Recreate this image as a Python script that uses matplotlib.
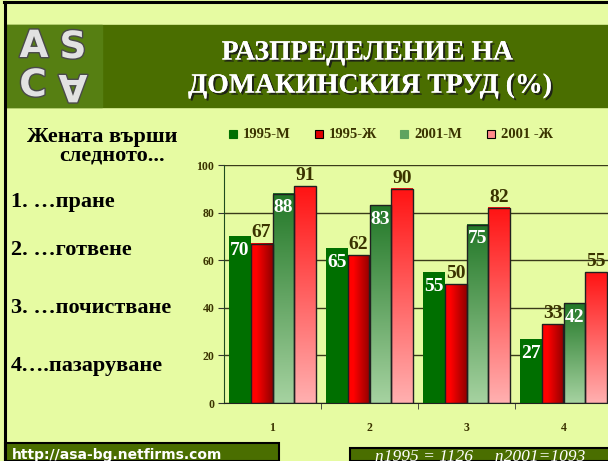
import numpy as np
import matplotlib
matplotlib.use("Agg")
import matplotlib.pyplot as plt
from matplotlib.patches import Rectangle
from matplotlib.lines import Line2D
import matplotlib.patheffects as pe

# data
categories = ["1", "2", "3", "4"]
series_names = ["1995-М", "1995-Ж", "2001-М", "2001 -Ж"]
m1995 = [70, 65, 55, 27]
f1995 = [67, 62, 50, 33]
m2001 = [88, 83, 75, 42]
f2001 = [91, 90, 82, 55]
items = ["1. …пране", "2. …готвене", "3. …почистване", "4….пазаруване"]

BG = "#E6FBA2"
BANNER = "#4A6E00"
DARK = "#3A3300"
SERIF = ["Liberation Serif", "DejaVu Serif"]

W, H = 608, 461
fig = plt.figure(figsize=(W / 100, H / 100), dpi=100, facecolor=BG)


def fx(px):
    return px / W


def fy(py):
    return 1 - py / H


# frame lines (top / left)
fig.add_artist(Line2D([fx(4), 1], [fy(2), fy(2)], color="black", lw=2.2))
fig.add_artist(Line2D([fx(5), fx(5)], [fy(2), 0], color="black", lw=2.2))

# header banner
fig.add_artist(Rectangle((fx(6), fy(107)), 1, fy(25) - fy(107),
                         transform=fig.transFigure, color=BANNER, zorder=1))
fig.add_artist(Rectangle((fx(6), fy(107)), fx(102) - fx(6), fy(25) - fy(107),
                         transform=fig.transFigure, color="#567F12", zorder=1))

# logo letters
logo_fx = [pe.withStroke(linewidth=2, foreground="#4A4A4A")]
logo_kw = dict(fontsize=27, fontweight="bold", color="#E2E2E2", ha="center",
               va="center", family="DejaVu Sans", path_effects=logo_fx)
fig.text(fx(34), fy(47), "A", **logo_kw)
fig.text(fx(73), fy(48), "S", **logo_kw)
fig.text(fx(33), fy(86), "C", **logo_kw)
fig.text(fx(73), fy(85), "A", rotation=180, **logo_kw)

# title
title_fx = [pe.withSimplePatchShadow(offset=(1.5, -1.5), shadow_rgbFace="#1A1A1A", alpha=0.9),
            pe.Normal()]
fig.text(fx(367), fy(53), "РАЗПРЕДЕЛЕНИЕ НА", fontsize=20, fontweight="bold",
         color="white", ha="center", va="center", family=SERIF, path_effects=title_fx)
fig.text(fx(370), fy(86), "ДОМАКИНСКИЯ ТРУД (%)", fontsize=20, fontweight="bold",
         color="white", ha="center", va="center", family=SERIF, path_effects=title_fx)

# left text
fig.text(fx(102), fy(137), "Жената върши", fontsize=16, fontweight="bold",
         color="black", ha="center", va="center", family=SERIF)
fig.text(fx(112), fy(156), "следното...", fontsize=16, fontweight="bold",
         color="black", ha="center", va="center", family=SERIF)
for txt, py in zip(items, [202, 250, 308, 366]):
    fig.text(fx(11), fy(py), txt, fontsize=16, fontweight="bold",
             color="black", ha="left", va="center", family=SERIF)

# legend
leg_x = [229, 315, 400, 487]
leg_colors = ["#007000", "#E00000", "#5FA35F", "#FF8A8A"]
leg_edges = ["#007000", "black", "#5FA35F", "black"]
for name, px, c, ec in zip(series_names, leg_x, leg_colors, leg_edges):
    fig.add_artist(Rectangle((fx(px), fy(138)), fx(8), fy(130) - fy(138),
                             transform=fig.transFigure, facecolor=c,
                             edgecolor=ec, lw=0.8))
    fig.text(fx(px + 14), fy(134), name, fontsize=10.5, fontweight="bold",
             color=DARK, ha="left", va="center", family=SERIF)

# chart
ax = fig.add_axes([fx(224), fy(403), (612 - 224) / W, fy(165) - fy(403)])
ax.set_facecolor("none")
x = np.arange(1, len(categories) + 1)
w = 0.225
offs = [-1.5 * w, -0.5 * w, 0.5 * w, 1.5 * w]

N = 64
t = np.linspace(0, 1, N)


def grad_img(c0, c1, vertical):
    c0 = np.array(c0) / 255
    c1 = np.array(c1) / 255
    g = c0[None, :] * (1 - t[:, None]) + c1[None, :] * t[:, None]
    if vertical:
        return g[:, None, :]  # rows bottom -> top
    return g[None, :, :]


# 1995-Ж: horizontal red -> dark red
red_h = np.concatenate([np.tile([[255, 0, 0]], (N // 3, 1)) / 255,
                        grad_img((255, 0, 0), (145, 0, 0), False)[0]])[None, :, :]
green_v = grad_img((165, 210, 160), (35, 120, 40), True)
pink_v = grad_img((255, 175, 175), (255, 20, 20), True)

for i in range(len(categories)):
    # 1995-M solid
    ax.bar(x[i] + offs[0], m1995[i], w, color="#006F00", zorder=2)
    for vals, off, img in [(f1995, offs[1], red_h), (m2001, offs[2], green_v),
                           (f2001, offs[3], pink_v)]:
        x0 = x[i] + off - w / 2
        ax.imshow(img, extent=[x0, x0 + w, 0, vals[i]], aspect="auto",
                  origin="lower", interpolation="bilinear", zorder=2)
        ax.add_patch(Rectangle((x0, 0), w, vals[i], fill=False,
                               edgecolor="#202020", lw=1.0, zorder=3))

lab_kw = dict(fontsize=14, fontweight="bold", ha="center", va="center",
              family=SERIF, zorder=5)
for i in range(len(categories)):
    ax.text(x[i] + offs[0], m1995[i] - 6, str(m1995[i]), color="white", **lab_kw)
    ax.text(x[i] + offs[1], f1995[i] + 4.5, str(f1995[i]), color=DARK, **lab_kw)
    ax.text(x[i] + offs[2], m2001[i] - 6, str(m2001[i]), color="white", **lab_kw)
    ax.text(x[i] + offs[3], f2001[i] + 4.5, str(f2001[i]), color=DARK, **lab_kw)

ax.set_xlim(0.5, 4.5)
ax.set_ylim(0, 100)
ax.set_yticks(range(0, 101, 20))
ax.grid(axis="y", color="#3A3A1A", lw=1.0, zorder=0)
ax.set_axisbelow(True)
ax.set_xticks(x)
ax.set_xticklabels(categories)
ax.set_xticks([1.5, 2.5, 3.5], minor=True)
ax.tick_params(axis="x", which="major", length=0, pad=14)
ax.tick_params(axis="x", which="minor", length=4, direction="out", color="#333")
ax.tick_params(axis="y", length=4, direction="out", color="#333", pad=3)
for lab in ax.get_xticklabels() + ax.get_yticklabels():
    lab.set_fontfamily(SERIF)
    lab.set_fontweight("bold")
    lab.set_fontsize(8.5)
    lab.set_color(DARK)
for s in ["top", "right"]:
    ax.spines[s].set_visible(False)
ax.spines["left"].set_color("#1E4A1E")
ax.spines["bottom"].set_color("#222222")
ax.spines["left"].set_zorder(4)
ax.spines["bottom"].set_zorder(4)

# footer boxes
fig.add_artist(Rectangle((fx(5), 0), fx(279) - fx(5), fy(443),
                         transform=fig.transFigure, facecolor=BANNER,
                         edgecolor="black", lw=1.5))
fig.text(fx(12), fy(455), "http://asa-bg.netfirms.com", fontsize=10,
         fontweight="bold", color="white", ha="left", va="center",
         family="DejaVu Sans")
fig.add_artist(Rectangle((fx(350), 0), 1, fy(448),
                         transform=fig.transFigure, facecolor=BANNER,
                         edgecolor="black", lw=1.5))
fig.text(fx(480), fy(457), "n1995 = 1126     n2001=1093", fontsize=12.5,
         style="italic", color="white", ha="center", va="center", family=SERIF)

fig.savefig("out.png", dpi=100, facecolor=BG)
